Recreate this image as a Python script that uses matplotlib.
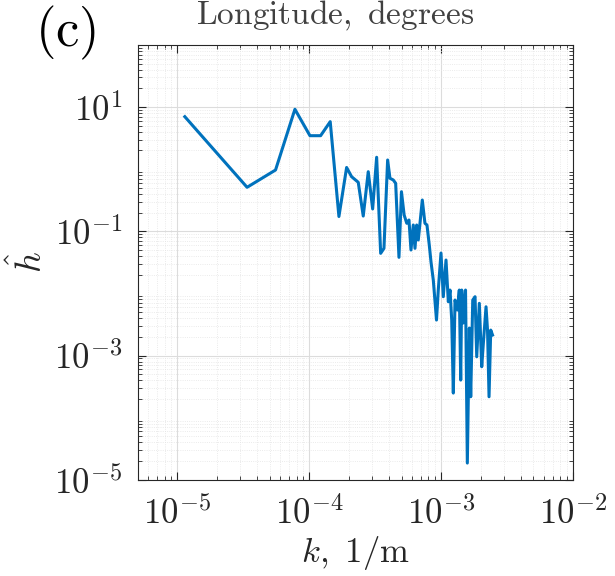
import matplotlib
matplotlib.use('Agg')
import matplotlib.pyplot as plt
from matplotlib.ticker import LogLocator, NullFormatter

plt.rcParams['mathtext.fontset'] = 'cm'

# wavenumber k (1/m) and spectral amplitude h-hat
k = [1.137e-5, 3.37e-5, 5.54e-5, 7.77e-5, 1.01e-4, 1.217e-4, 1.439e-4,
     1.675e-4, 1.916e-4, 2.09e-4, 2.347e-4, 2.561e-4, 2.795e-4, 3.018e-4,
     3.236e-4, 3.471e-4, 3.677e-4, 3.92e-4, 4.083e-4, 4.325e-4, 4.51e-4,
     4.778e-4, 4.99e-4, 5.23e-4, 5.476e-4, 5.69e-4, 5.893e-4, 6.135e-4,
     6.32e-4, 6.51e-4, 6.694e-4, 6.895e-4, 7.18e-4, 7.52e-4, 7.79e-4,
     8.11e-4, 8.36e-4, 8.70e-4, 9.20e-4, 9.49e-4, 9.95e-4, 1.036e-3,
     1.086e-3, 1.131e-3, 1.165e-3, 1.2e-3, 1.234e-3, 1.271e-3, 1.323e-3,
     1.37e-3, 1.404e-3, 1.429e-3, 1.469e-3, 1.527e-3, 1.576e-3, 1.632e-3,
     1.672e-3, 1.732e-3, 1.803e-3, 1.857e-3, 1.943e-3, 2.026e-3, 2.084e-3,
     2.184e-3, 2.242e-3, 2.302e-3, 2.371e-3, 2.447e-3]
h_hat = [7.0, 0.511, 0.97, 9.22, 3.46, 3.46, 5.82,
         0.173, 1.065, 0.757, 0.615, 0.176, 0.911, 0.229,
         1.555, 0.0442, 0.0532, 1.406, 0.714, 0.67, 0.593,
         0.0381, 0.434, 0.183, 0.1345, 0.152, 0.05, 0.1263,
         0.0532, 0.1263, 0.0724, 0.1345, 0.319, 0.1345, 0.1263,
         0.0602, 0.032, 0.01643, 0.00373, 0.01134, 0.0447, 0.00885,
         0.0345, 0.00735, 0.01134, 0.00373, 2.49e-4, 0.00783, 0.0054,
         0.01134, 4.03e-4, 0.01134, 0.00334, 0.01134, 1.86e-5, 0.00277,
         2.17e-4, 0.00783, 0.00885, 9.56e-4, 0.00693, 6.6e-4, 0.00157,
         0.0061, 0.00257, 2.17e-4, 0.00257, 0.00214]

x_ticks = [1e-5, 1e-4, 1e-3, 1e-2]
x_labels = [r'$10^{-5}$', r'$10^{-4}$', r'$10^{-3}$', r'$10^{-2}$']
y_ticks = [1e-5, 1e-3, 1e-1, 1e1]
y_labels = [r'$10^{-5}$', r'$10^{-3}$', r'$10^{-1}$', r'$10^{1}$']

fig = plt.figure(figsize=(6.15, 5.76), dpi=100)
ax = fig.add_axes([0.224, 0.167, 0.708, 0.755])

ax.loglog(k, h_hat, color='#0072BD', lw=2.2)
ax.set_xlim(5e-6, 1e-2)
ax.set_ylim(1e-5, 1e2)

ax.set_xticks(x_ticks)
ax.set_xticklabels(x_labels)
ax.set_yticks(y_ticks)
ax.set_yticklabels(y_labels)
ax.xaxis.set_minor_locator(LogLocator(base=10, subs=range(2, 10), numticks=20))
ax.yaxis.set_minor_locator(LogLocator(base=10, subs=range(2, 10), numticks=20))
ax.xaxis.set_minor_formatter(NullFormatter())
ax.yaxis.set_minor_formatter(NullFormatter())

ax.tick_params(which='both', direction='in', top=True, right=True,
               labelsize=25, colors='#262626')
ax.tick_params(which='major', length=6, width=0.8)
ax.tick_params(axis='x', which='major', pad=12)
ax.tick_params(axis='y', which='major', pad=11)
ax.tick_params(which='minor', length=3, width=0.6)

ax.grid(True, which='major', color='#dcdcdc', lw=0.8)
ax.grid(True, which='minor', color='#e4e4e4', lw=0.6, ls=':')
ax.set_axisbelow(True)
for sp in ax.spines.values():
    sp.set_color('#262626')
    sp.set_linewidth(0.8)

ax.set_xlabel(r'$k,\ 1/\mathrm{m}$', fontsize=25, color='#262626', labelpad=2)
ax.set_ylabel(r'$\hat{h}$', fontsize=26, color='#262626', labelpad=4)

fig.text(0.545, 0.958, r'$\mathrm{Longitude,\ degrees}$', fontsize=24,
         ha='center', va='baseline', color='#404040')
fig.text(0.107, 0.942, r'$\mathrm{(c)}$', fontsize=38,
         ha='center', va='center', color='black')

fig.savefig('out.png', dpi=100)
